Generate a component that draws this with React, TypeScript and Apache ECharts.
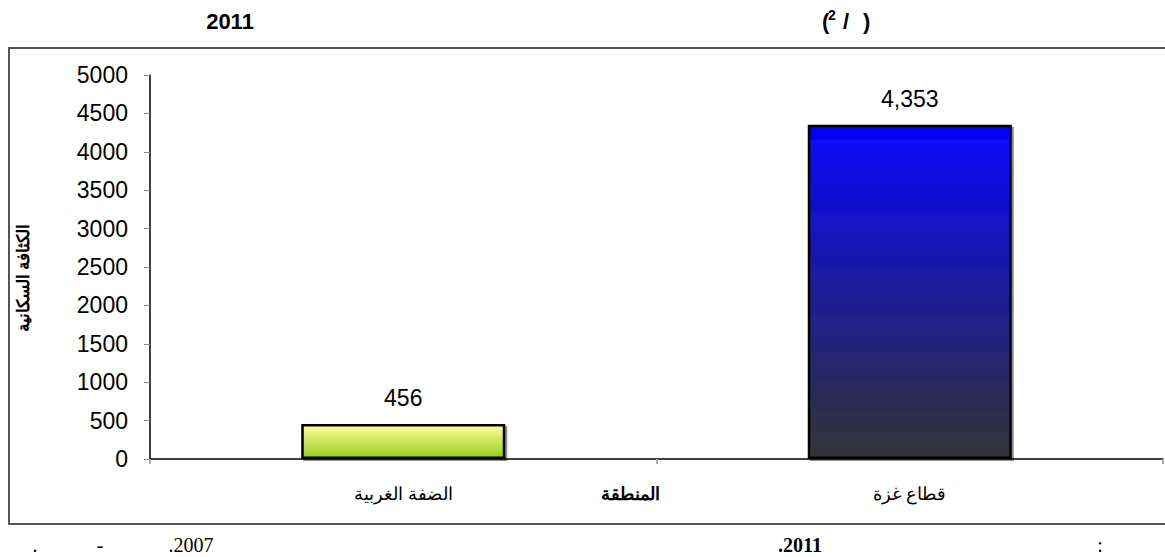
import React, { useEffect, useRef } from "react";
import * as echarts from "echarts";

const categories = ["الضفة الغربية", "قطاع غزة"];
const densityValues = [456, 4353];
const yTicks = { min: 0, max: 5000, interval: 500 };
const yAxisTitle = "الكثافة السكانية";
const xAxisTitle = "المنطقة";
const titleYear = "2011";
const footnotes = [
  { text: ".", x: 35, bold: false },
  { text: "-", x: 100, bold: false },
  { text: ".2007", x: 191, bold: false },
  { text: ".2011", x: 800, bold: true },
  { text: ":", x: 1100, bold: false },
];

const SANS = "Arial, 'Liberation Sans', sans-serif";
const SERIF = "'Liberation Serif', 'Times New Roman', serif";

export default function App() {
  const ref = useRef<HTMLDivElement>(null);
  useEffect(() => {
    document.body.style.margin = "0";
    const chart = echarts.init(ref.current!, null, { renderer: "svg" });
    const gradients = [
      new echarts.graphic.LinearGradient(0, 0, 0, 1, [
        { offset: 0, color: "#ffff9c" },
        { offset: 1, color: "#99cc1a" },
      ]),
      new echarts.graphic.LinearGradient(0, 0, 0, 1, [
        { offset: 0, color: "#0000ff" },
        { offset: 0.05, color: "#0808f6" },
        { offset: 1, color: "#333333" },
      ]),
    ];
    chart.setOption({
      animation: false,
      backgroundColor: "#ffffff",
      grid: { left: 150, right: 2, top: 75, bottom: 98, containLabel: false },
      xAxis: {
        type: "category",
        data: categories,
        boundaryGap: true,
        axisLine: { show: true, lineStyle: { color: "#000", width: 1.5 } },
        axisTick: { show: true, alignWithLabel: false, length: 5, lineStyle: { color: "#aaa", width: 2 } },
        axisLabel: { fontSize: 18, color: "#000", fontFamily: SANS, margin: 26 },
        splitLine: { show: false },
      },
      yAxis: {
        type: "value",
        min: yTicks.min,
        max: yTicks.max,
        interval: yTicks.interval,
        axisLine: { show: true, lineStyle: { color: "#000", width: 1.5 } },
        axisTick: { show: true, inside: false, length: 6, lineStyle: { color: "#888", width: 1 } },
        axisLabel: {
          fontSize: 23,
          color: "#000",
          fontFamily: SANS,
          margin: 22,
          formatter: (v: number) => String(v),
        },
        splitLine: { show: false },
      },
      series: [
        {
          type: "bar",
          barWidth: 204,
          data: densityValues.map((v, i) => ({
            value: v,
            itemStyle: {
              color: gradients[i],
              borderColor: "#000",
              borderWidth: 2.5,
              shadowColor: "rgba(0,0,0,0.45)",
              shadowOffsetX: 2,
              shadowOffsetY: 2,
              shadowBlur: 0,
            },
          })),
          label: {
            show: true,
            position: "top",
            distance: 14,
            fontSize: 23,
            color: "#000",
            fontFamily: SANS,
            formatter: (p: any) => Number(p.value).toLocaleString("en-US"),
          },
        },
      ],
      graphic: [
        {
          type: "rect",
          shape: { x: 9, y: 48, width: 1170, height: 476 },
          style: { fill: "none", stroke: "#555", lineWidth: 2 },
          silent: true,
        },
        {
          type: "text",
          x: 23,
          y: 278,
          rotation: Math.PI / 2,
          style: {
            text: yAxisTitle,
            fontSize: 17,
            fontWeight: "bold",
            fill: "#000",
            fontFamily: SANS,
            align: "center",
            verticalAlign: "middle",
          },
        },
        {
          type: "text",
          x: 230,
          y: 21,
          style: {
            text: titleYear,
            fontSize: 22,
            fontWeight: "bold",
            fill: "#000",
            fontFamily: SANS,
            align: "center",
            verticalAlign: "middle",
          },
        },
        {
          type: "text",
          x: 822,
          y: 21,
          style: { text: "(", fontSize: 22, fontWeight: "bold", fill: "#000", fontFamily: SANS, align: "left", verticalAlign: "middle" },
        },
        {
          type: "text",
          x: 828,
          y: 15,
          style: { text: "2", fontSize: 14, fontWeight: "bold", fill: "#000", fontFamily: SANS, align: "left", verticalAlign: "middle" },
        },
        {
          type: "text",
          x: 843,
          y: 21,
          style: { text: "/", fontSize: 22, fontWeight: "bold", fill: "#000", fontFamily: SANS, align: "left", verticalAlign: "middle" },
        },
        {
          type: "text",
          x: 863,
          y: 21,
          style: { text: ")", fontSize: 22, fontWeight: "bold", fill: "#000", fontFamily: SANS, align: "left", verticalAlign: "middle" },
        },
        {
          type: "text",
          x: 630,
          y: 494,
          style: {
            text: xAxisTitle,
            fontSize: 18,
            fontWeight: "bold",
            fill: "#000",
            fontFamily: SANS,
            align: "center",
            verticalAlign: "middle",
          },
        },
        ...footnotes.map((f) => ({
          type: "text",
          x: f.x,
          y: 545,
          style: {
            text: f.text,
            fontSize: 20,
            fontWeight: f.bold ? "bold" : "normal",
            fill: "#000",
            fontFamily: SERIF,
            align: "center",
            verticalAlign: "middle",
          },
        })),
      ],
    });
    return () => chart.dispose();
  }, []);
  return <div ref={ref} style={{ width: 1165, height: 557 }} />;
}
